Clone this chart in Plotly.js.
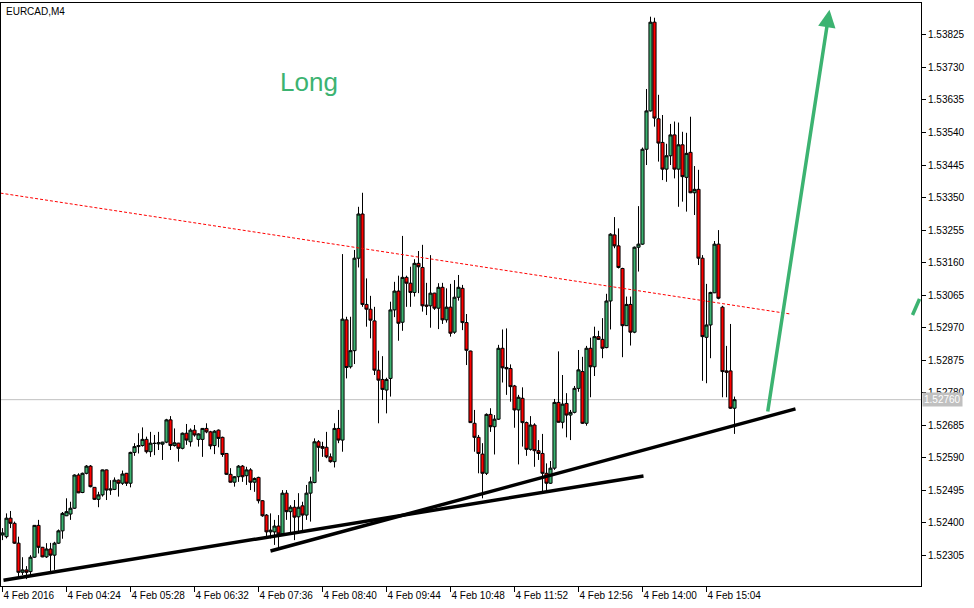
<!DOCTYPE html>
<html><head><meta charset="utf-8">
<script src="https://cdn.plot.ly/plotly-3.0.1.min.js"></script>
<style>html,body{margin:0;padding:0;background:#fff}#chart{width:974px;height:608px}</style>
</head><body><div id="chart"></div>
<script>
const symbolTitle = "EURCAD,M4";
const tickIdx = [0,16,32,48,64,80,96,112,128,144,160,176];
const tickLabels = ["4 Feb 2016","4 Feb 04:24","4 Feb 05:28","4 Feb 06:32","4 Feb 07:36","4 Feb 08:40","4 Feb 09:44","4 Feb 10:48","4 Feb 11:52","4 Feb 12:56","4 Feb 14:00","4 Feb 15:04"];
const priceTicks = [1.52305,1.52400,1.52495,1.52590,1.52685,1.52780,1.52875,1.52970,1.53065,1.53160,1.53255,1.53350,1.53445,1.53540,1.53635,1.53730,1.53825];
const lastPrice = 1.52760;

const openP = [1.52365,1.52360,1.52414,1.52399,1.52341,1.52256,1.52263,1.52258,1.52300,1.52393,1.52329,1.52301,1.52324,1.52306,1.52341,1.52377,1.52421,1.52426,1.52443,1.52540,1.52489,1.52545,1.52566,1.52504,1.52469,1.52482,1.52555,1.52496,1.52498,1.52525,1.52516,1.52545,1.52516,1.52606,1.52623,1.52626,1.52644,1.52608,1.52633,1.52631,1.52630,1.52636,1.52701,1.52626,1.52633,1.52618,1.52662,1.52637,1.52671,1.52644,1.52644,1.52676,1.52666,1.52626,1.52671,1.52650,1.52603,1.52542,1.52519,1.52535,1.52566,1.52538,1.52555,1.52519,1.52533,1.52465,1.52423,1.52374,1.52374,1.52391,1.52368,1.52487,1.52433,1.52446,1.52418,1.52450,1.52423,1.52487,1.52518,1.52637,1.52623,1.52621,1.52593,1.52579,1.52676,1.52642,1.52993,1.52856,1.52903,1.53173,1.53302,1.53038,1.53024,1.52990,1.52846,1.52819,1.52788,1.52822,1.53022,1.53077,1.52986,1.53117,1.53100,1.53073,1.53158,1.53146,1.53036,1.53034,1.53071,1.53027,1.53088,1.52993,1.53030,1.52957,1.53059,1.53085,1.52985,1.52902,1.52691,1.52650,1.52601,1.52545,1.52717,1.52681,1.52703,1.52910,1.52854,1.52851,1.52800,1.52730,1.52764,1.52693,1.52615,1.52686,1.52611,1.52603,1.52545,1.52516,1.52560,1.52752,1.52694,1.52749,1.52715,1.52723,1.52793,1.52842,1.52691,1.52910,1.52856,1.52944,1.52936,1.52912,1.53048,1.53241,1.53209,1.53143,1.52976,1.53038,1.52957,1.53205,1.53214,1.53491,1.53603,1.53862,1.53580,1.53511,1.53433,1.53472,1.53533,1.53433,1.53504,1.53409,1.53482,1.53364,1.53374,1.53173,1.52942,1.52978,1.53072,1.53214,1.53030,1.52844,1.52844,1.52735];
const highP = [1.52385,1.52428,1.52435,1.52404,1.52360,1.52300,1.52274,1.52306,1.52394,1.52409,1.52330,1.52341,1.52342,1.52345,1.52381,1.52432,1.52472,1.52462,1.52542,1.52545,1.52547,1.52569,1.52569,1.52504,1.52491,1.52556,1.52556,1.52525,1.52533,1.52527,1.52553,1.52546,1.52608,1.52633,1.52662,1.52679,1.52652,1.52666,1.52657,1.52666,1.52637,1.52704,1.52712,1.52676,1.52634,1.52664,1.52689,1.52676,1.52686,1.52662,1.52677,1.52691,1.52669,1.52671,1.52673,1.52652,1.52604,1.52560,1.52537,1.52569,1.52569,1.52564,1.52560,1.52533,1.52535,1.52467,1.52426,1.52428,1.52409,1.52423,1.52496,1.52496,1.52452,1.52467,1.52487,1.52462,1.52511,1.52535,1.52647,1.52642,1.52637,1.52666,1.52603,1.52691,1.52730,1.53185,1.53002,1.53002,1.53197,1.53323,1.53364,1.53114,1.53063,1.53031,1.52903,1.52887,1.52824,1.53046,1.53104,1.53122,1.53238,1.53122,1.53148,1.53170,1.53194,1.53212,1.53101,1.53182,1.53072,1.53100,1.53101,1.53085,1.53098,1.53109,1.53124,1.53095,1.53010,1.52903,1.52730,1.52657,1.52633,1.52720,1.52735,1.52715,1.52920,1.52965,1.52968,1.52863,1.52803,1.52774,1.52796,1.52696,1.52712,1.52691,1.52642,1.52660,1.52574,1.52581,1.52762,1.52901,1.52832,1.52779,1.52730,1.52800,1.52905,1.52885,1.52917,1.52941,1.52973,1.52961,1.52998,1.53069,1.53246,1.53293,1.53260,1.53145,1.53061,1.53061,1.53207,1.53325,1.53496,1.53667,1.53878,1.53875,1.53650,1.53591,1.53507,1.53565,1.53572,1.53569,1.53542,1.53539,1.53586,1.53442,1.53431,1.53182,1.53098,1.53075,1.53223,1.53255,1.53034,1.52917,1.52981,1.52769];
const lowP = [1.52350,1.52355,1.52385,1.52339,1.52241,1.52248,1.52236,1.52243,1.52298,1.52311,1.52300,1.52298,1.52258,1.52263,1.52339,1.52354,1.52420,1.52409,1.52441,1.52487,1.52487,1.52542,1.52504,1.52467,1.52446,1.52477,1.52467,1.52482,1.52496,1.52477,1.52511,1.52508,1.52504,1.52596,1.52603,1.52623,1.52603,1.52593,1.52598,1.52613,1.52584,1.52633,1.52613,1.52623,1.52579,1.52615,1.52628,1.52623,1.52652,1.52623,1.52593,1.52662,1.52615,1.52601,1.52621,1.52593,1.52540,1.52518,1.52506,1.52520,1.52520,1.52511,1.52496,1.52491,1.52457,1.52418,1.52362,1.52355,1.52336,1.52321,1.52362,1.52409,1.52370,1.52350,1.52370,1.52374,1.52409,1.52404,1.52516,1.52550,1.52593,1.52589,1.52576,1.52562,1.52633,1.52608,1.52822,1.52851,1.52864,1.53146,1.53031,1.52973,1.52939,1.52832,1.52691,1.52759,1.52720,1.52769,1.53001,1.52932,1.52961,1.53031,1.53031,1.53061,1.53071,1.53017,1.53007,1.52970,1.53022,1.52966,1.52981,1.52985,1.52944,1.52952,1.53049,1.52963,1.52861,1.52692,1.52608,1.52545,1.52472,1.52540,1.52666,1.52600,1.52701,1.52810,1.52774,1.52754,1.52678,1.52571,1.52623,1.52596,1.52611,1.52564,1.52584,1.52487,1.52491,1.52514,1.52555,1.52693,1.52676,1.52650,1.52642,1.52720,1.52783,1.52689,1.52684,1.52767,1.52829,1.52934,1.52881,1.52910,1.52965,1.53202,1.53143,1.52884,1.52975,1.52918,1.52954,1.53134,1.53212,1.53445,1.53601,1.53557,1.53455,1.53401,1.53396,1.53445,1.53406,1.53323,1.53338,1.53309,1.53363,1.53299,1.53153,1.52815,1.52808,1.52881,1.53071,1.53053,1.52767,1.52767,1.52733,1.52660];
const closeP = [1.52371,1.52414,1.52399,1.52341,1.52256,1.52263,1.52256,1.52300,1.52393,1.52329,1.52301,1.52324,1.52306,1.52341,1.52377,1.52428,1.52433,1.52443,1.52540,1.52488,1.52545,1.52566,1.52506,1.52469,1.52482,1.52555,1.52496,1.52499,1.52525,1.52516,1.52543,1.52516,1.52606,1.52623,1.52626,1.52644,1.52608,1.52633,1.52632,1.52634,1.52636,1.52701,1.52626,1.52634,1.52618,1.52662,1.52642,1.52671,1.52657,1.52660,1.52676,1.52666,1.52625,1.52668,1.52647,1.52600,1.52542,1.52519,1.52535,1.52566,1.52535,1.52555,1.52519,1.52530,1.52465,1.52421,1.52374,1.52379,1.52391,1.52368,1.52487,1.52433,1.52446,1.52417,1.52446,1.52423,1.52487,1.52520,1.52637,1.52621,1.52618,1.52593,1.52579,1.52676,1.52642,1.52995,1.52854,1.52903,1.53173,1.53302,1.53038,1.53024,1.52992,1.52846,1.52817,1.52790,1.52819,1.53022,1.53077,1.52983,1.53117,1.53100,1.53073,1.53158,1.53148,1.53034,1.53033,1.53071,1.53027,1.53088,1.52993,1.53030,1.52954,1.53059,1.53088,1.52985,1.52904,1.52693,1.52650,1.52603,1.52545,1.52717,1.52681,1.52703,1.52910,1.52853,1.52850,1.52798,1.52730,1.52767,1.52693,1.52615,1.52686,1.52611,1.52603,1.52545,1.52516,1.52560,1.52752,1.52694,1.52747,1.52715,1.52723,1.52793,1.52847,1.52691,1.52910,1.52856,1.52944,1.52936,1.52910,1.53048,1.53243,1.53209,1.53146,1.52976,1.53038,1.52957,1.53205,1.53214,1.53491,1.53603,1.53862,1.53582,1.53509,1.53433,1.53472,1.53533,1.53433,1.53504,1.53411,1.53479,1.53364,1.53374,1.53173,1.52944,1.52978,1.53073,1.53214,1.53056,1.52842,1.52840,1.52735,1.52760];

// hand-drawn chart objects (bar index, price)
const redTrend = {x: [-0.5, 197], y: [1.53363, 1.53010]};
const supportA = {x: [0.25, 160.25], y: [1.52233, 1.52537]};
const supportB = {x: [67, 198.25], y: [1.52318, 1.52733]};
const arrowTail = {x: 191.25, y: 1.52721};
const arrowHead = {x: 206.75, y: 1.53898};
const edgeMark = {x: [227.5, 229.25], y: [1.53007, 1.53054]};
const longLabel = {text: "Long", x: 76.5, y: 1.53688};

const idx = openP.map((_, i) => i);
const GREEN = '#3cb371';
const FONT = 'Liberation Sans, Arial, sans-serif';

const trace = {
  type: 'candlestick', x: idx, open: openP, high: highP, low: lowP, close: closeP,
  increasing: {line: {color: '#000', width: 1}, fillcolor: GREEN},
  decreasing: {line: {color: '#000', width: 1}, fillcolor: '#ff0000'},
  whiskerwidth: 0, hoverinfo: 'skip', showlegend: false
};

const layout = {
  width: 974, height: 608,
  margin: {l: 1, r: 53, t: 3, b: 22},
  paper_bgcolor: '#fff', plot_bgcolor: '#fff',
  showlegend: false,
  boxgap: 0.22, boxgroupgap: 0,
  xaxis: {
    range: [-0.375, 229.625], rangeslider: {visible: false},
    tickvals: tickIdx, ticktext: tickLabels, ticks: 'outside', ticklen: 5, tickcolor: '#000',
    ticklabelposition: 'outside right',
    tickfont: {family: 'Liberation Sans Narrow, ' + FONT, size: 10, color: '#000'},
    showline: true, mirror: true, linecolor: '#000', linewidth: 1,
    showgrid: false, zeroline: false, fixedrange: true
  },
  yaxis: {
    side: 'right', range: [1.52216, 1.53918],
    tickvals: priceTicks, ticktext: priceTicks.map(v => v.toFixed(5)),
    ticks: 'outside', ticklen: 4, tickcolor: '#000',
    tickfont: {family: FONT, size: 10, color: '#000'},
    showline: true, mirror: true, linecolor: '#000', linewidth: 1,
    showgrid: false, zeroline: false, fixedrange: true
  },
  shapes: [
    {type: 'line', xref: 'paper', x0: 0, x1: 1, yref: 'y', y0: lastPrice, y1: lastPrice,
     line: {color: '#c0c0c0', width: 1}, layer: 'below'},
    {type: 'line', x0: redTrend.x[0], y0: redTrend.y[0], x1: redTrend.x[1], y1: redTrend.y[1],
     line: {color: '#ff0000', width: 1, dash: '3px,2px'}, layer: 'above'},
    {type: 'line', x0: supportA.x[0], y0: supportA.y[0], x1: supportA.x[1], y1: supportA.y[1],
     line: {color: '#000', width: 3.5}, layer: 'above'},
    {type: 'line', x0: supportB.x[0], y0: supportB.y[0], x1: supportB.x[1], y1: supportB.y[1],
     line: {color: '#000', width: 3.5}, layer: 'above'},
    {type: 'line', x0: edgeMark.x[0], y0: edgeMark.y[0], x1: edgeMark.x[1], y1: edgeMark.y[1],
     line: {color: GREEN, width: 3.5}, layer: 'above'}
  ],
  annotations: [
    {xref: 'paper', yref: 'paper', x: 0, y: 1, xshift: 3, yshift: -1, xanchor: 'left', yanchor: 'top',
     text: symbolTitle, showarrow: false, font: {family: FONT, size: 10, color: '#000'}},
    {x: longLabel.x, y: longLabel.y, text: longLabel.text, showarrow: false,
     font: {family: FONT, size: 26, color: GREEN}},
    {x: arrowHead.x, y: arrowHead.y, ax: arrowTail.x, ay: arrowTail.y, axref: 'x', ayref: 'y',
     text: '', showarrow: true, arrowhead: 2, arrowsize: 1, arrowwidth: 3.5, arrowcolor: GREEN},
    {xref: 'paper', x: 1, xshift: 1, xanchor: 'left', y: lastPrice, yanchor: 'middle',
     text: lastPrice.toFixed(5), showarrow: false, bgcolor: '#c0c0c0', borderpad: 1,
     font: {family: FONT, size: 10, color: '#fff'}}
  ]
};

Plotly.newPlot('chart', [trace], layout, {displayModeBar: false, staticPlot: true});
</script>
</body></html>
